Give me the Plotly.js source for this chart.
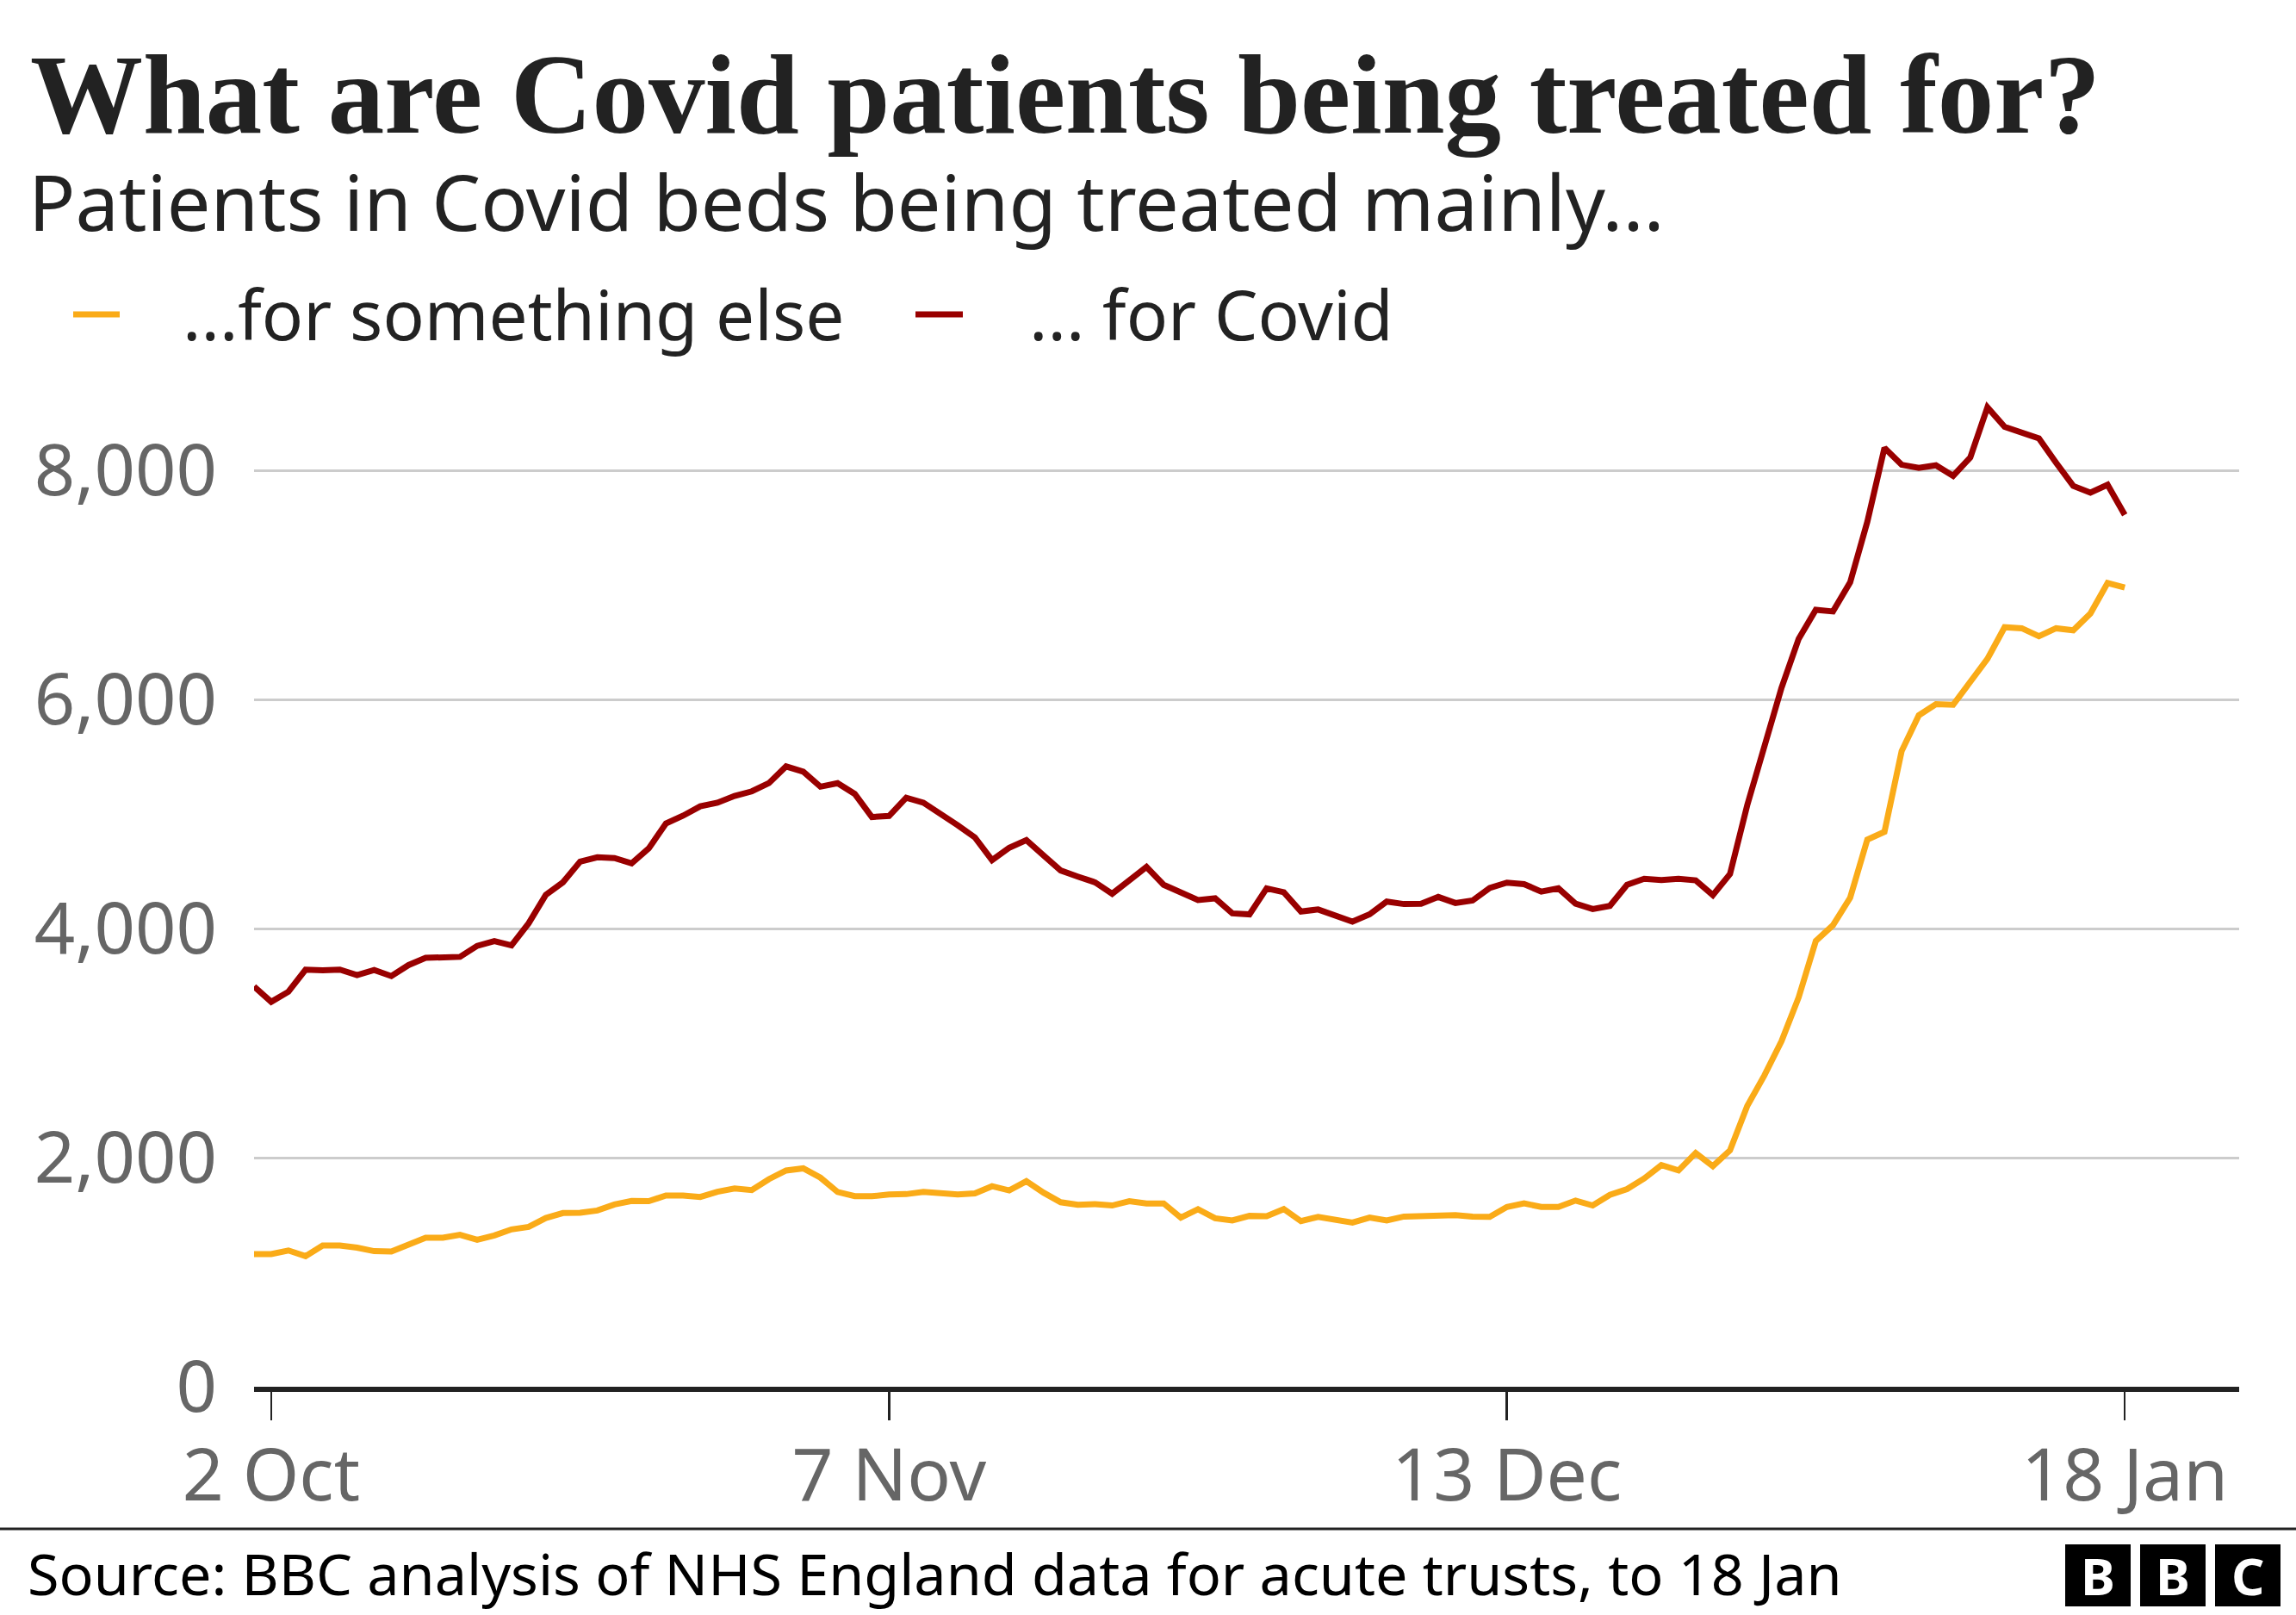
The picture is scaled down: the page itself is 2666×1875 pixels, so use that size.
<!DOCTYPE html>
<html>
<head>
<meta charset="utf-8">
<script src="https://cdn.plot.ly/plotly-3.0.1.min.js"></script>
<style>
  html, body { margin: 0; padding: 0; background: #ffffff; }
  #chart { width: 2666px; height: 1875px; }
</style>
</head>
<body>
<div id="chart"></div>
<script>
// ---------------- DATA ----------------
const dates = [
  '2021-10-01','2021-10-02','2021-10-03','2021-10-04','2021-10-05','2021-10-06','2021-10-07','2021-10-08','2021-10-09','2021-10-10',
  '2021-10-11','2021-10-12','2021-10-13','2021-10-14','2021-10-15','2021-10-16','2021-10-17','2021-10-18','2021-10-19','2021-10-20',
  '2021-10-21','2021-10-22','2021-10-23','2021-10-24','2021-10-25','2021-10-26','2021-10-27','2021-10-28','2021-10-29','2021-10-30',
  '2021-10-31','2021-11-01','2021-11-02','2021-11-03','2021-11-04','2021-11-05','2021-11-06','2021-11-07','2021-11-08','2021-11-09',
  '2021-11-10','2021-11-11','2021-11-12','2021-11-13','2021-11-14','2021-11-15','2021-11-16','2021-11-17','2021-11-18','2021-11-19',
  '2021-11-20','2021-11-21','2021-11-22','2021-11-23','2021-11-24','2021-11-25','2021-11-26','2021-11-27','2021-11-28','2021-11-29',
  '2021-11-30','2021-12-01','2021-12-02','2021-12-03','2021-12-04','2021-12-05','2021-12-06','2021-12-07','2021-12-08','2021-12-09',
  '2021-12-10','2021-12-11','2021-12-12','2021-12-13','2021-12-14','2021-12-15','2021-12-16','2021-12-17','2021-12-18','2021-12-19',
  '2021-12-20','2021-12-21','2021-12-22','2021-12-23','2021-12-24','2021-12-25','2021-12-26','2021-12-27','2021-12-28','2021-12-29',
  '2021-12-30','2021-12-31','2022-01-01','2022-01-02','2022-01-03','2022-01-04','2022-01-05','2022-01-06','2022-01-07','2022-01-08',
  '2022-01-09','2022-01-10','2022-01-11','2022-01-12','2022-01-13','2022-01-14','2022-01-15','2022-01-16','2022-01-17','2022-01-18'
];

const forSomethingElse = [
  1159,1159,1190,1140,1234,1234,1215,1184,1181,1240,
  1302,1302,1327,1284,1321,1374,1396,1474,1517,1520,
  1539,1592,1623,1620,1670,1670,1657,1703,1732,1717,
  1813,1888,1907,1826,1701,1664,1664,1679,1682,1701,
  1689,1679,1689,1751,1714,1795,1695,1611,1589,1595,
  1583,1620,1601,1601,1477,1550,1471,1452,1492,1489,
  1552,1446,1483,1458,1433,1477,1452,1486,1492,1486,
  1499,1486,1483,1570,1601,1570,1570,1626,1583,1676,
  1726,1819,1935,1889,2041,1926,2064,2451,2718,3017,
  3400,3892,4030,4270,4777,4846,5550,5863,5960,5955,
  6158,6356,6632,6623,6554,6623,6605,6752,7019,6978
];

const forCovid = [
  3495,3361,3449,3642,3636,3642,3595,3639,3586,3682,
  3745,3745,3754,3850,3891,3854,4047,4296,4405,4586,
  4623,4617,4570,4701,4919,4987,5068,5100,5159,5199,
  5271,5417,5371,5240,5271,5177,4975,4984,5143,5100,
  5009,4903,4797,4598,4707,4773,4639,4508,4455,4405,
  4305,4424,4539,4383,4321,4250,4265,4134,4125,4352,
  4318,4150,4168,4118,4062,4125,4237,4215,4218,4277,
  4224,4246,4355,4402,4389,4324,4352,4218,4171,4199,
  4383,4436,4425,4436,4422,4293,4477,5076,5573,6103,
  6531,6784,6770,7024,7553,8198,8051,8023,8046,7954,
  8115,8553,8382,8336,8281,8069,7866,7807,7876,7613
];

const seriesNames = ['...for something else', '... for Covid'];
const xTickVals = ['2021-10-02', '2021-11-07', '2021-12-13', '2022-01-18'];
const xTickText = ['2 Oct', '7 Nov', '13 Dec', '18 Jan'];
const yTickVals = [0, 2000, 4000, 6000, 8000];

const titleText = 'What are Covid patients being treated for?';
const subtitleText = 'Patients in Covid beds being treated mainly...';
const sourceText = 'Source: BBC analysis of NHS England data for acute trusts, to 18 Jan';

// ---------------- STYLE / LAYOUT ----------------
const COLORS = ['#FAAB18', '#990000'];
const W = 2666, H = 1875;
const M = { l: 295, r: 66, t: 440, b: 265 };
const PW = W - M.l - M.r, PH = H - M.t - M.b;
const px = x => (x - M.l) / PW;          // pixel -> paper x
const py = y => (H - M.b - y) / PH;      // pixel -> paper y
const SANS = 'Noto Sans, DejaVu Sans, sans-serif';

const traces = [
  { x: dates, y: forSomethingElse, name: seriesNames[0], type: 'scatter', mode: 'lines',
    line: { color: COLORS[0], width: 7 }, showlegend: false, hoverinfo: 'skip' },
  { x: dates, y: forCovid, name: seriesNames[1], type: 'scatter', mode: 'lines',
    line: { color: COLORS[1], width: 7 }, showlegend: false, hoverinfo: 'skip' }
];

const annotations = [
  { text: '<b>' + titleText + '</b>', x: px(33), y: py(110), xref: 'paper', yref: 'paper',
    xanchor: 'left', yanchor: 'middle', showarrow: false,
    font: { family: 'Liberation Serif, DejaVu Serif, serif', size: 131, color: '#222222' } },
  { text: subtitleText, x: px(31), y: py(233), xref: 'paper', yref: 'paper',
    xanchor: 'left', yanchor: 'middle', showarrow: false,
    font: { family: SANS, size: 90, color: '#222222' } },
  { text: seriesNames[0], x: px(210), y: py(363), xref: 'paper', yref: 'paper',
    xanchor: 'left', yanchor: 'middle', showarrow: false,
    font: { family: SANS, size: 80, color: '#222222' } },
  { text: seriesNames[1], x: px(1193), y: py(363), xref: 'paper', yref: 'paper',
    xanchor: 'left', yanchor: 'middle', showarrow: false,
    font: { family: SANS, size: 80, color: '#222222' } },
  { text: sourceText, x: px(30), y: py(1826), xref: 'paper', yref: 'paper',
    xanchor: 'left', yanchor: 'middle', showarrow: false,
    font: { family: SANS, size: 66.5, color: '#000000' } }
];

const bbcBoxes = [[2398, 2474], [2485, 2561], [2572, 2648]];
const bbcLetters = ['B', 'B', 'C'];
bbcBoxes.forEach((b, i) => {
  annotations.push({ text: '<b>' + bbcLetters[i] + '</b>', x: px((b[0] + b[1]) / 2), y: py(1829),
    xref: 'paper', yref: 'paper', xanchor: 'center', yanchor: 'middle', showarrow: false,
    font: { family: SANS, size: 60, color: '#ffffff' } });
});

const shapes = [
  // legend keys
  { type: 'line', xref: 'paper', yref: 'paper', x0: px(85), x1: px(139), y0: py(365), y1: py(365),
    line: { color: COLORS[0], width: 7 } },
  { type: 'line', xref: 'paper', yref: 'paper', x0: px(1063), x1: px(1118), y0: py(365), y1: py(365),
    line: { color: COLORS[1], width: 7 } },
  // footer rule
  { type: 'line', xref: 'paper', yref: 'paper', x0: px(0), x1: px(W), y0: py(1775), y1: py(1775),
    line: { color: '#222222', width: 3 } }
];
bbcBoxes.forEach(b => {
  shapes.push({ type: 'rect', xref: 'paper', yref: 'paper', x0: px(b[0]), x1: px(b[1]),
    y0: py(1865), y1: py(1793), fillcolor: '#000000', line: { width: 0 } });
});

const layout = {
  width: W, height: H,
  margin: M,
  paper_bgcolor: '#ffffff', plot_bgcolor: '#ffffff',
  showlegend: false,
  xaxis: {
    type: 'date',
    range: ['2021-10-01', '2022-01-24 16:00'],
    tickmode: 'array', tickvals: xTickVals, ticktext: xTickText,
    showgrid: false, zeroline: false,
    showline: true, linecolor: '#222222', linewidth: 6,
    ticks: 'outside', ticklen: 33, tickwidth: 2.5, tickcolor: '#222222',
    ticklabelstandoff: -8,
    tickfont: { family: SANS, size: 84, color: '#666666' }
  },
  yaxis: {
    range: [0, 8800],
    tickmode: 'array', tickvals: yTickVals,
    tickformat: ',d',
    showgrid: true, gridcolor: '#cccccc', gridwidth: 3,
    zeroline: false, showline: false, ticks: '',
    ticklabelstandoff: 42,
    tickfont: { family: SANS, size: 83, color: '#666666' }
  },
  annotations: annotations,
  shapes: shapes
};

Plotly.newPlot('chart', traces, layout, { staticPlot: true, displayModeBar: false });
</script>
</body>
</html>
